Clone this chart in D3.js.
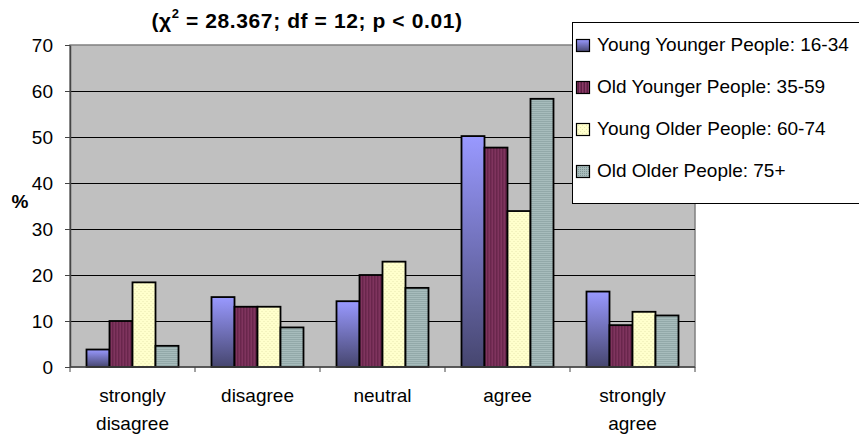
<!DOCTYPE html>
<html>
<head>
<meta charset="utf-8">
<script src="https://cdn.jsdelivr.net/npm/d3@7"></script>
<style>
	body { margin: 0; background: #fff; }
	svg text { font-family: "Liberation Sans", Arial, sans-serif; fill: #000; }
</style>
</head>
<body>
<svg width="859" height="436"></svg>
<script>
// categories and series (values in %)
var categories = ['strongly disagree', 'disagree', 'neutral', 'agree', 'strongly agree'];
var categoryLines = [['strongly', 'disagree'], ['disagree'], ['neutral'], ['agree'], ['strongly', 'agree']];
var seriesNames = ['Young Younger People: 16-34', 'Old Younger People: 35-59', 'Young Older People: 60-74', 'Old Older People: 75+'];
var youngYounger = [3.8, 15.2, 14.3, 50.2, 16.4];
var oldYounger = [10.0, 13.1, 20.0, 47.7, 9.1];
var youngOlder = [18.4, 13.1, 22.9, 33.9, 12.0];
var oldOlder = [4.6, 8.6, 17.2, 58.3, 11.2];
var yTicks = [0, 10, 20, 30, 40, 50, 60, 70];

var allSeries = [youngYounger, oldYounger, youngOlder, oldOlder];
var fills = ['url(#gradBlue)', 'url(#patMaroon)', 'url(#patYellow)', 'url(#patTeal)'];

var svg = d3.select('svg'),
	margin = { top: 45, right: 164, bottom: 69, left: 70 },
	width = +svg.attr('width') - margin.left - margin.right,
	height = +svg.attr('height') - margin.top - margin.bottom;

// fills
var defs = svg.append('defs');
var grad = defs.append('linearGradient').attr('id', 'gradBlue')
	.attr('x1', 0).attr('y1', 0).attr('x2', 0).attr('y2', 1);
grad.append('stop').attr('offset', '0%').attr('stop-color', '#9999ff');
grad.append('stop').attr('offset', '100%').attr('stop-color', '#46466f');

var pm = defs.append('pattern').attr('id', 'patMaroon')
	.attr('patternUnits', 'userSpaceOnUse').attr('width', 3).attr('height', 3);
pm.append('rect').attr('width', 3).attr('height', 3).attr('fill', '#5e1f44');
pm.append('rect').attr('width', 1.5).attr('height', 3).attr('fill', '#8a3a66');

var py = defs.append('pattern').attr('id', 'patYellow')
	.attr('patternUnits', 'userSpaceOnUse').attr('width', 4).attr('height', 4);
py.append('rect').attr('width', 4).attr('height', 4).attr('fill', '#ffffcc');
py.append('rect').attr('x', 0).attr('y', 0).attr('width', 1).attr('height', 1).attr('fill', '#e6e6b0');
py.append('rect').attr('x', 2).attr('y', 2).attr('width', 1).attr('height', 1).attr('fill', '#e6e6b0');

var pt = defs.append('pattern').attr('id', 'patTeal')
	.attr('patternUnits', 'userSpaceOnUse').attr('width', 2).attr('height', 2);
pt.append('rect').attr('width', 2).attr('height', 2).attr('fill', '#a7bcbc');
pt.append('rect').attr('width', 1).attr('height', 1).attr('fill', '#7f9696');

var x0 = d3.scaleBand().domain(categories).range([0, width]).paddingInner(0.264).paddingOuter(0.132);
var x1 = d3.scaleBand().domain(d3.range(allSeries.length)).range([0, x0.bandwidth()]);
var y = d3.scaleLinear().domain([0, 70]).range([height, 0]);

var g = svg.append('g')
	.attr('transform', 'translate(' + margin.left + ',' + margin.top + ')');

// plot area
g.append('rect').attr('width', width).attr('height', height)
	.attr('fill', '#c0c0c0').attr('stroke', '#808080').attr('stroke-width', 1.5);

// gridlines
g.selectAll('.grid').data(yTicks.slice(1, -1)).enter().append('line')
	.attr('x1', 0).attr('x2', width)
	.attr('y1', function(d) { return y(d) + 0.5; })
	.attr('y2', function(d) { return y(d) + 0.5; })
	.attr('stroke', '#000').attr('stroke-width', 1);

// bars
var groups = g.selectAll('.grp').data(categories).enter().append('g')
	.attr('transform', function(d) { return 'translate(' + x0(d) + ',0)'; });

groups.selectAll('rect')
	.data(function(d, ci) {
		return allSeries.map(function(s, si) { return { si: si, v: s[ci] }; });
	})
	.enter().append('rect')
	.attr('x', function(d) { return x1(d.si); })
	.attr('y', function(d) { return y(d.v); })
	.attr('width', x1.bandwidth())
	.attr('height', function(d) { return height - y(d.v); })
	.attr('fill', function(d) { return fills[d.si]; })
	.attr('stroke', '#000').attr('stroke-width', 1.8);

// axes
var yAxis = g.append('g')
	.call(d3.axisLeft(y).tickValues(yTicks).tickSize(5).tickSizeOuter(0));
yAxis.select('.domain').attr('stroke', '#444').attr('stroke-width', 1.5);
yAxis.selectAll('.tick line').attr('stroke', '#444');
yAxis.selectAll('.tick text').attr('x', -17).style('font-size', '19px');

var xAxis = g.append('g').attr('transform', 'translate(0,' + height + ')');
xAxis.append('line').attr('x1', 0).attr('x2', width).attr('stroke', '#444').attr('stroke-width', 1.5);
var step = width / categories.length;
xAxis.selectAll('.xt').data(d3.range(categories.length + 1)).enter().append('line')
	.attr('x1', function(d) { return d * step; })
	.attr('x2', function(d) { return d * step; })
	.attr('y1', 0).attr('y2', 5).attr('stroke', '#444');

var labels = xAxis.selectAll('.xl').data(categories).enter().append('text')
	.attr('text-anchor', 'middle')
	.attr('transform', function(d) { return 'translate(' + (x0(d) + x0.bandwidth() / 2) + ',0)'; })
	.style('font-size', '19px');
labels.each(function(d, i) {
	var t = d3.select(this);
	categoryLines[i].forEach(function(line, li) {
		t.append('tspan').attr('x', 0).attr('y', 35 + li * 28).text(line);
	});
});

// y-axis title
svg.append('text').attr('x', 20).attr('y', 208).attr('text-anchor', 'middle')
	.style('font-size', '19px').style('font-weight', 'bold').text('%');

// title
var title = svg.append('text').attr('x', 307).attr('y', 28).attr('text-anchor', 'middle')
	.style('font-size', '21px').style('font-weight', 'bold').style('letter-spacing', '0.6px');
title.append('tspan').text('(\u03c7');
title.append('tspan').attr('dy', -10).style('font-size', '13px').text('2');
title.append('tspan').attr('dy', 10).text(' = 28.367; df = 12; p < 0.01)');

// legend
var legend = svg.append('g').attr('transform', 'translate(572,22)');
legend.append('rect').attr('x', 0.5).attr('y', 0.5).attr('width', 290).attr('height', 181)
	.attr('fill', '#fff').attr('stroke', '#000').attr('stroke-width', 1);
var items = legend.selectAll('.li').data(seriesNames).enter().append('g')
	.attr('transform', function(d, i) { return 'translate(4,' + (29 + i * 42) + ')'; });
items.append('rect').attr('x', 0.5).attr('y', -11.5).attr('width', 13).attr('height', 12)
	.attr('fill', function(d, i) { return fills[i]; })
	.attr('stroke', '#000').attr('stroke-width', 1.2);
items.append('text').attr('x', 21).attr('y', 0)
	.style('font-size', '19px').text(function(d) { return d; });
</script>
</body>
</html>
